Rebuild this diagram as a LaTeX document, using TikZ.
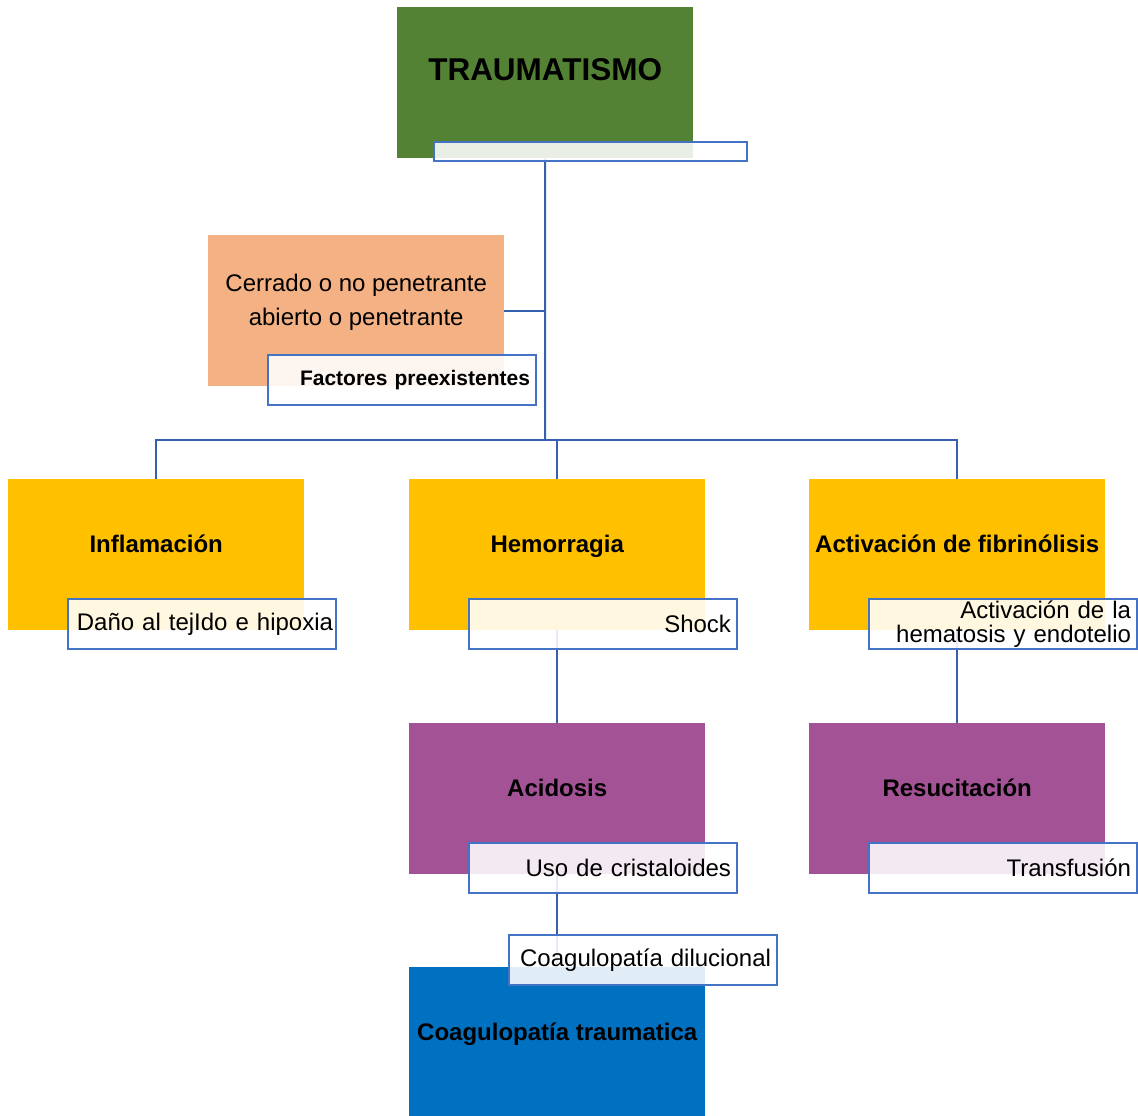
\documentclass[tikz,border=0pt]{standalone}
\usepackage{fontspec}
\setmainfont{Liberation Sans}
\usetikzlibrary{backgrounds}
\definecolor{traumagreen}{HTML}{548235}
\definecolor{typeorange}{HTML}{F4B183}
\definecolor{stageyellow}{HTML}{FFC000}
\definecolor{stagepurple}{HTML}{A45296}
\definecolor{coagblue}{HTML}{0070C0}
\definecolor{tagblue}{HTML}{4472C4}
\definecolor{linkblue}{HTML}{3560AD}
\begin{document}
\begin{tikzpicture}[x=1pt,y=-1pt,
  box/.style={anchor=north west,minimum width=296pt,minimum height=151pt,inner sep=0pt,
    font=\fontsize{24}{28}\selectfont\bfseries,text height=0pt,text depth=3.6pt},
  tag/.style={anchor=north west,draw=tagblue,line width=2pt,fill=white,fill opacity=0.88,
    text opacity=1,minimum height=50pt,text width=256pt,inner xsep=6pt,inner ysep=0pt,
    align=right,font=\fontsize{24}{24}\selectfont},
  link/.style={draw=linkblue,line width=2pt}]
  \useasboundingbox (0,0) rectangle (1138,1116);

  % Coordinates
  \coordinate (hub) at (545,440);

  % Boxes
  \node[box,fill=traumagreen,font=\fontsize{31.5}{36}\selectfont\bfseries] (trauma) at (397,7) {TRAUMATISMO};
  \node[box,fill=typeorange,align=center,font=\fontsize{24}{34}\selectfont,text height=30pt,text depth=0pt] (cerrado) at (208,235) {Cerrado o no penetrante\\abierto o penetrante};
  \node[box,fill=stageyellow] (inflam) at (8,479) {Inflamación};
  \node[box,fill=stageyellow] (hemo) at (409,479) {Hemorragia};
  \node[box,fill=stageyellow] (fibrin) at (809,479) {Activación de fibrinólisis};
  \node[box,fill=stagepurple] (acid) at (409,723) {Acidosis};
  \node[box,fill=stagepurple] (resus) at (809,723) {Resucitación};
  \node[box,fill=coagblue] (coag) at (409,967) {Coagulopatía traumatica};

  % Tags
  \node[tag,minimum height=19pt,text width=301pt] (traumaTag) at (433,141) {};
  \node[tag,font=\fontsize{21}{24}\selectfont\bfseries] (factTag) at (267,354) {Factores preexistentes};
  \node[tag,inner xsep=3pt,text width=262pt] (danoTag) at (67,598) {Daño al tejIdo e hipoxia};
  \node[tag] (shockTag) at (468,598) {Shock};
  \node[tag] (hemaTag) at (868,598) {Activación de la\\hematosis y endotelio};
  \node[tag] (usoTag) at (468,842) {Uso de cristaloides};
  \node[tag] (transTag) at (868,842) {Transfusión};
  \node[tag] (diluTag) at (508,934) {Coagulopatía dilucional};

  % Drawing
  \begin{scope}[on background layer]
    \draw[link] (trauma.south) -- (hub);
    \draw[link] (cerrado.east) -- (cerrado.east -| hub);
    \draw[link] (inflam.north) |- (hub) -| (fibrin.north);
    \draw[link] (hemo.north) -- (hemo.north |- hub);
    \draw[link] (hemo.south) -- (acid.north);
    \draw[link] (fibrin.south) -- (resus.north);
    \draw[link] (acid.south) -- (coag.north);
  \end{scope}
\end{tikzpicture}
\end{document}
